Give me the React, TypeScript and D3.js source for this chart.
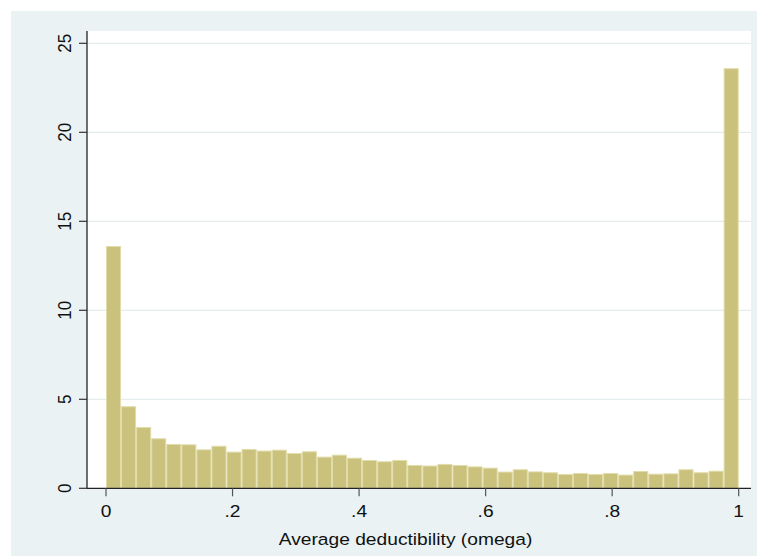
import React from "react";
import * as d3 from "d3";

const binValues: number[] = [
  13.61, 4.61, 3.44, 2.81, 2.49, 2.47, 2.19, 2.39, 2.06, 2.21,
  2.12, 2.17, 1.98, 2.08, 1.78, 1.89, 1.72, 1.59, 1.52, 1.59,
  1.31, 1.28, 1.37, 1.31, 1.23, 1.16, 0.94, 1.07, 0.95, 0.9,
  0.8, 0.86, 0.8, 0.86, 0.77, 0.97, 0.82, 0.84, 1.07, 0.9, 0.99,
  23.6,
];
const xTicks: number[] = [0, 0.2, 0.4, 0.6, 0.8, 1];
const xTickLabels: string[] = ["0", ".2", ".4", ".6", ".8", "1"];
const yTicks: number[] = [0, 5, 10, 15, 20, 25];
const yGrid: number[] = [5, 10, 15, 20, 25];
const xTitle = "Average deductibility (omega)";

const W = 757;
const H = 556;
const FONT = "'Liberation Sans', Arial, Helvetica, sans-serif";
const SX = 1.13;

export default function App() {
  const x = d3.scaleLinear().domain([0, 1]).range([106, 738.7]);
  const y = d3.scaleLinear().domain([0, 25]).range([488.3, 43.3]);
  const n = binValues.length;
  const bw = 1 / n;
  const plotL = 87;
  const plotR = 751;
  const plotT = 31;
  const plotB = 488.3;

  return (
    <svg
      width={W}
      height={H}
      style={{ position: "absolute", left: 0, top: 0 }}
      xmlns="http://www.w3.org/2000/svg"
    >
      <rect x={0} y={0} width={W} height={H} fill="#ffffff" />
      <rect x={11} y={11} width={W - 11} height={H - 11} fill="#EAF2F3" />
      <rect x={plotL} y={plotT} width={plotR - plotL} height={plotB - plotT} fill="#ffffff" />
      {yGrid.map((v) => (
        <line key={"g" + v} x1={plotL} x2={plotR} y1={y(v)} y2={y(v)} stroke="#E4ECEE" strokeWidth={1.2} />
      ))}
      {binValues.map((v, i) => {
        const x0 = x(i * bw);
        const x1 = x((i + 1) * bw);
        return (
          <rect
            key={"b" + i}
            x={x0 + 0.5}
            y={y(v) + 0.5}
            width={x1 - x0 - 1}
            height={y(0) - y(v) - 0.5}
            fill="#C9C17C"
            stroke="#E2DCA9"
            strokeWidth={1}
          />
        );
      })}
      <line x1={plotL} x2={plotL} y1={plotT} y2={plotB} stroke="#222" strokeWidth={1.3} />
      <line x1={plotL} x2={plotR} y1={plotB} y2={plotB} stroke="#222" strokeWidth={1.3} />
      {yTicks.map((v) => (
        <g key={"yt" + v}>
          <line x1={79} x2={plotL} y1={y(v)} y2={y(v)} stroke="#333" strokeWidth={1.2} />
          <text
            transform={`translate(71,${y(v)}) scale(${SX},1) rotate(-90)`}
            textAnchor="middle"
            fontFamily={FONT}
            fontSize={17}
            fill="#111"
          >
            {v}
          </text>
        </g>
      ))}
      {xTicks.map((v, i) => (
        <g key={"xt" + v}>
          <line x1={x(v)} x2={x(v)} y1={plotB} y2={plotB + 8} stroke="#555" strokeWidth={1.2} />
          <text
            transform={`translate(${x(v)},517) scale(${SX},1)`}
            textAnchor="middle"
            fontFamily={FONT}
            fontSize={17}
            fill="#111"
          >
            {xTickLabels[i]}
          </text>
        </g>
      ))}
      <text
        transform={`translate(${(278 + 533) / 2},545) scale(${SX},1)`}
        textAnchor="middle"
        fontFamily={FONT}
        fontSize={17}
        fill="#111"
      >
        {xTitle}
      </text>
    </svg>
  );
}
